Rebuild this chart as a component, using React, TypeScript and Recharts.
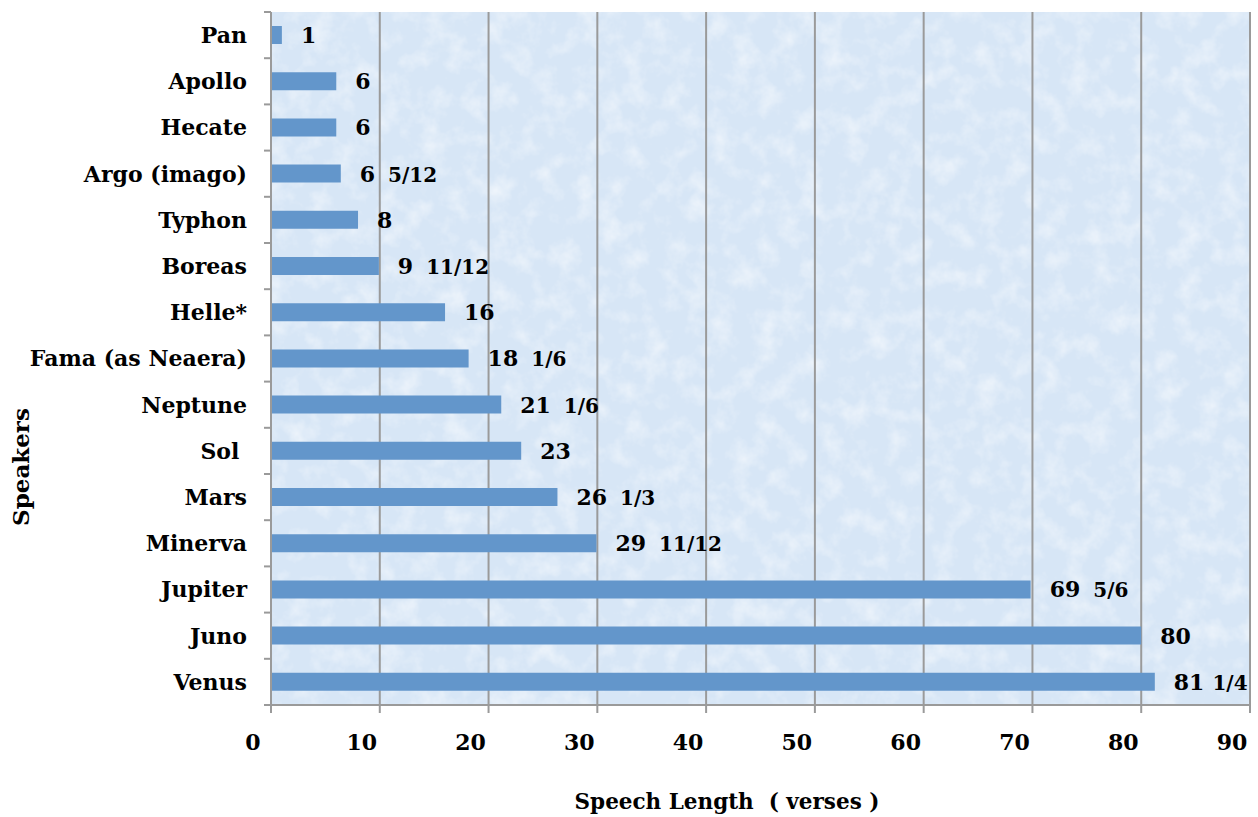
import React from 'react';
import {
  BarChart,
  Bar,
  XAxis,
  YAxis,
  CartesianGrid,
  LabelList,
  Label
} from 'recharts';

// Speakers, top to bottom
const speakers = [
  'Pan', 'Apollo', 'Hecate', 'Argo (imago)', 'Typhon', 'Boreas', 'Helle*',
  'Fama (as Neaera)', 'Neptune', 'Sol ', 'Mars', 'Minerva', 'Jupiter', 'Juno', 'Venus'
];

// Speech length in verses: whole part and fractional part
const wholeVerses = [1, 6, 6, 6, 8, 9, 16, 18, 21, 23, 26, 29, 69, 80, 81];
const fractionVerses = ['', '', '', '5/12', '', '11/12', '', '1/6', '1/6', '', '1/3', '11/12', '5/6', '', '1/4'];

const xTicks = [0, 10, 20, 30, 40, 50, 60, 70, 80, 90];

const FONT = '"DejaVu Serif", serif';
const BAR_COLOR = '#6396CB';
const AXIS_COLOR = '#9a9a9a';

const parseFraction = (f: string) => {
  if (!f) return 0;
  const [n, d] = f.split('/').map(Number);
  return n / d;
};

const chartData = speakers.map((name, i) => ({
  name,
  verses: wholeVerses[i] + parseFraction(fractionVerses[i]),
  whole: wholeVerses[i],
  frac: fractionVerses[i]
}));

// value label: whole number, then the fraction a little smaller
const VerseLabel = (props: any) => {
  const { x, y, width, height, index } = props;
  const d = chartData[index];
  const tx = x + width + 19;
  const ty = y + height / 2 + 8;
  // the last bar sits close to the edge, so its fraction is tucked in
  const gap = index === chartData.length - 1 ? 8 : 13;
  return (
    <text x={tx} y={ty} fontFamily={FONT} fontWeight="bold" fill="#000" style={{ whiteSpace: 'pre' }}>
      <tspan fontSize={22}>{d.whole}</tspan>
      {d.frac && <tspan fontSize={20} dx={gap}>{d.frac}</tspan>}
    </text>
  );
};

// category tick with marks on band edges
const SpeakerTick = (props: any) => {
  const { x, y, payload, index } = props;
  const half = payload && payload.offset ? payload.offset : 693 / 30;
  const axisX = x + 24;
  return (
    <g>
      <line x1={axisX - 7} x2={axisX} y1={y - half} y2={y - half} stroke={AXIS_COLOR} strokeWidth={2} />
      {index === speakers.length - 1 && (
        <line x1={axisX - 7} x2={axisX} y1={y + half} y2={y + half} stroke={AXIS_COLOR} strokeWidth={2} />
      )}
      <text
        x={x}
        y={y}
        dy="0.36em"
        textAnchor="end"
        fontFamily={FONT}
        fontWeight="bold"
        fontSize={22}
        fill="#000"
        style={{ whiteSpace: 'pre' }}
      >
        {payload.value}
      </text>
    </g>
  );
};

export default function App() {
  return (
    <div style={{ position: 'absolute', left: 0, top: 0, width: 1258, height: 817, background: '#fff' }}>
      <BarChart
        width={1258}
        height={817}
        data={chartData}
        layout="vertical"
        margin={{ top: 12, right: 8, left: 0, bottom: 0 }}
        barCategoryGap={0}
      >
        <defs>
          {/* mottled paper texture for the plot area */}
          <filter id="mottle" x="0" y="0" width="100%" height="100%">
            <feTurbulence type="fractalNoise" baseFrequency="0.045" numOctaves={4} seed={3} />
            <feColorMatrix
              type="matrix"
              values="0 0 0 0 1  0 0 0 0 1  0 0 0 0 1  0 0 0 1.8 -0.8"
            />
          </filter>
          <pattern id="paper" patternUnits="userSpaceOnUse" width={1258} height={817}>
            <rect width={1258} height={817} fill="#d7e6f6" />
            <rect width={1258} height={817} filter="url(#mottle)" opacity={0.6} />
          </pattern>
        </defs>
        <CartesianGrid
          horizontal={false}
          vertical={true}
          stroke={AXIS_COLOR}
          strokeWidth={2}
          fill="url(#paper)"
          fillOpacity={1}
        />
        <XAxis
          type="number"
          domain={[0, 90]}
          ticks={xTicks}
          interval={0}
          height={112}
          tickSize={8}
          tickMargin={21}
          axisLine={{ stroke: AXIS_COLOR, strokeWidth: 2 }}
          tickLine={{ stroke: AXIS_COLOR, strokeWidth: 2 }}
          tick={{ fill: '#000', fontSize: 22, fontWeight: 'bold', fontFamily: FONT, dx: -18 }}
        >
          <Label
            content={() => (
              <text
                x={727}
                y={809}
                textAnchor="middle"
                fontFamily={FONT}
                fontWeight="bold"
                fontSize={21.5}
                fill="#000"
                style={{ whiteSpace: 'pre' }}
              >
                Speech Length  ( verses )
              </text>
            )}
          />
        </XAxis>
        <YAxis
          type="category"
          dataKey="name"
          width={271}
          interval={0}
          tickSize={7}
          tickMargin={17}
          tickLine={false}
          axisLine={{ stroke: AXIS_COLOR, strokeWidth: 2 }}
          tick={<SpeakerTick />}
        >
          <Label
            content={() => (
              <text
                x={0}
                y={0}
                transform="translate(29, 467) rotate(-90)"
                textAnchor="middle"
                fontFamily={FONT}
                fontWeight="bold"
                fontSize={23}
                fill="#000"
              >
                Speakers
              </text>
            )}
          />
        </YAxis>
        <Bar dataKey="verses" fill={BAR_COLOR} barSize={18} isAnimationActive={false}>
          <LabelList dataKey="verses" content={<VerseLabel />} />
        </Bar>
      </BarChart>
    </div>
  );
}
